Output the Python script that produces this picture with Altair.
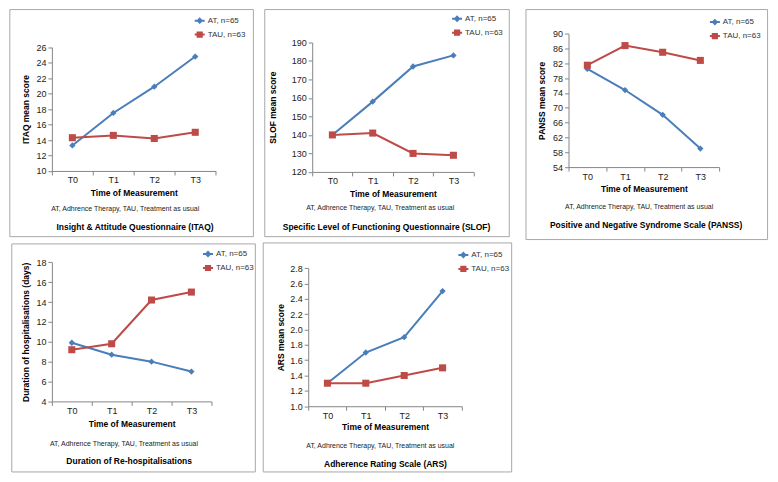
import altair as alt
import pandas as pd

# ---------------- data ----------------
times = ["T0", "T1", "T2", "T3"]
series_names = ["AT, n=65", "TAU, n=63"]
colors = ["#4A7EBB", "#BE4B48"]

itaq_at = [13.3, 17.5, 20.9, 24.8]
itaq_tau = [14.3, 14.6, 14.2, 15.0]
slof_at = [140, 158, 177, 183]
slof_tau = [140, 141, 130, 129]
panss_at = [80.5, 74.8, 68.1, 59.0]
panss_tau = [81.5, 86.8, 85.0, 82.8]
hosp_at = [9.9, 8.7, 8.0, 7.0]
hosp_tau = [9.2, 9.8, 14.2, 15.0]
ars_at = [1.3, 1.7, 1.9, 2.5]
ars_tau = [1.3, 1.3, 1.4, 1.5]

itaq_ticks = [10, 12, 14, 16, 18, 20, 22, 24, 26]
slof_ticks = [120, 130, 140, 150, 160, 170, 180, 190]
panss_ticks = [54, 58, 62, 66, 70, 74, 78, 82, 86, 90]
hosp_ticks = [4, 6, 8, 10, 12, 14, 16, 18]
ars_ticks = [1.0, 1.2, 1.4, 1.6, 1.8, 2.0, 2.2, 2.4, 2.6, 2.8]

y_titles = ["ITAQ mean score", "SLOF mean score", "PANSS mean score",
            "Duration of hospitalisations (days)", "ARS mean score"]
panel_titles = ["Insight  & Attitude Questionnaire (ITAQ)",
                "Specific Level of Functioning Questionnaire (SLOF)",
                "Positive and Negative Syndrome Scale (PANSS)",
                "Duration of Re-hospitalisations",
                "Adherence  Rating Scale (ARS)"]
note_text = "AT, Adhrence Therapy, TAU, Treatment as usual"
x_title = "Time of Measurement"

series_data = [(itaq_at, itaq_tau, itaq_ticks, "d"),
               (slof_at, slof_tau, slof_ticks, "d"),
               (panss_at, panss_tau, panss_ticks, "d"),
               (hosp_at, hosp_tau, hosp_ticks, "d"),
               (ars_at, ars_tau, ars_ticks, ".1f")]

# ---------------- layout (reference pixel geometry) ----------------
layout = [
    dict(plot=(45, 41, 212.5, 169), border=(2, 2, 251, 237), cell=(1, 1, 256.5, 241),
         leg=(190, 14.5), ytx=18.5, xty=191, note=(120, 208), tit=(130, 227)),
    dict(plot=(310.5, 36, 475.5, 170), border=(262, 2, 512, 237), cell=(256.5, 1, 520.5, 241),
         leg=(452.5, 12.5), ytx=270, xty=192, note=(380, 207), tit=(386.5, 227)),
    dict(plot=(572.5, 27, 726.5, 165), border=(529, 2, 776, 240), cell=(520.5, 1, 778, 241),
         leg=(716, 16), ytx=545, xty=187, note=(644.7, 206), tit=(651.8, 225)),
    dict(plot=(43, 263, 206, 407), border=(2, 244, 251, 480), cell=(1, 241, 254.5, 482),
         leg=(196.5, 255.5), ytx=16, xty=430, note=(116.7, 451), tit=(122, 469)),
    dict(plot=(304, 269, 461, 412), border=(258, 243, 512, 480), cell=(254.5, 241, 516, 482),
         leg=(456.5, 256.5), ytx=276, xty=433, note=(377.7, 453), tit=(383, 472)),
]

SX = 762 / 777
SY = 466 / 481


def TX(x):
    return (x - 1) * SX


def TY(y):
    return (y - 1) * SY


AXIS_GREY = "#868686"
LEG_SIZE = 196
path_at = "M-1,0L1,0M0,-0.4L0.4,0L0,0.4L-0.4,0Z"
path_tau = "M-1,0L1,0M-0.42,-0.42L0.42,-0.42L0.42,0.42L-0.42,0.42Z"
shapes = ["diamond", "square"]
shape_sizes = [40, 50]


def make_panel(i):
    at, tau, ticks, fmt = series_data[i]
    L = layout[i]
    c = L["cell"]
    X0 = TX(L["plot"][0])
    X1 = TX(L["plot"][2])
    G0 = TY(c[1])
    top = TY(L["plot"][1]) - G0
    h = TY(L["plot"][3]) - G0
    w = X1 - X0

    def rx(x):
        return TX(x) - X0

    def ry(y):
        return TY(y) - G0

    df = pd.DataFrame({
        "time": times * 2,
        "series": [series_names[0]] * 4 + [series_names[1]] * 4,
        "value": list(at) + list(tau),
    })
    one = alt.Data(values=[{"k": 1}])

    cell = alt.Chart(one).mark_rect(fill="white", fillOpacity=0, strokeWidth=0).encode(
        x=alt.value(rx(c[0])), x2=alt.value(rx(c[2])),
        y=alt.value(ry(c[1])), y2=alt.value(ry(c[3])))
    b = L["border"]
    border = alt.Chart(one).mark_rect(fill="white", fillOpacity=0, stroke="#A8A8A8",
                                      strokeWidth=1).encode(
        x=alt.value(rx(b[0])), x2=alt.value(rx(b[2])),
        y=alt.value(ry(b[1])), y2=alt.value(ry(b[3])))
    note = alt.Chart(one).mark_text(fontSize=7, color="#222", align="center",
                                    baseline="middle").encode(
        x=alt.value(rx(L["note"][0])), y=alt.value(ry(L["note"][1])),
        text=alt.value(note_text))
    ptitle = alt.Chart(one).mark_text(fontSize=8.5, fontWeight="bold", color="#000",
                                      align="center", baseline="middle").encode(
        x=alt.value(rx(L["tit"][0])), y=alt.value(ry(L["tit"][1])),
        text=alt.value(panel_titles[i]))

    x_axis = alt.Axis(tickBand="extent", domainColor=AXIS_GREY, tickColor=AXIS_GREY,
                      tickSize=4, labelPadding=1, labelFontSize=9, labelColor="#222",
                      labelAngle=0, titleFontSize=8.5, titleFontWeight="bold",
                      titleColor="#000", titleX=w / 2, titleY=ry(L["xty"]) - h,
                      titleBaseline="middle", titleAlign="center", grid=False)
    y_axis = alt.Axis(values=ticks, format=fmt, domainColor=AXIS_GREY, tickColor=AXIS_GREY,
                      tickSize=4, labelPadding=2, labelFontSize=9, labelColor="#222",
                      titleFontSize=8.5, titleFontWeight="bold", titleColor="#000",
                      titleX=TX(L["ytx"]) - X0, titleY=(top + h) / 2, titleAngle=270,
                      titleBaseline="middle", titleAlign="center", grid=False)

    base = alt.Chart(df).encode(
        x=alt.X("time:N", sort=times,
                scale=alt.Scale(type="band", domain=times, paddingInner=0, paddingOuter=0),
                axis=x_axis, title=x_title),
        y=alt.Y("value:Q", scale=alt.Scale(domain=[ticks[0], ticks[-1]], nice=False,
                                           zero=False, range=[h, top]),
                axis=y_axis, title=y_titles[i]),
    )

    layers = [cell, border, note, ptitle]
    for k, name in enumerate(series_names):
        sub = base.transform_filter(alt.datum.series == name)
        layers.append(sub.mark_line(strokeWidth=2, color=colors[k]))
    for k, name in enumerate(series_names):
        sub = base.transform_filter(alt.datum.series == name)
        layers.append(sub.mark_point(shape=shapes[k], filled=True, size=shape_sizes[k],
                                     opacity=1, color=colors[k]))

    leg = alt.Legend(orient="none", legendX=rx(L["leg"][0]),
                     legendY=ry(L["leg"][1]) - (LEG_SIZE ** 0.5) / 2,
                     title=None, padding=0, rowPadding=1, labelFontSize=8,
                     labelColor="#333", labelOffset=2, symbolStrokeWidth=2,
                     symbolOpacity=1)
    legend_layer = base.transform_filter("false").mark_point(
        size=LEG_SIZE, strokeWidth=2, opacity=1).encode(
        shape=alt.Shape("series:N", scale=alt.Scale(domain=series_names,
                                                    range=[path_at, path_tau]), legend=leg),
        stroke=alt.Stroke("series:N", scale=alt.Scale(domain=series_names, range=colors),
                          legend=leg),
        fill=alt.Fill("series:N", scale=alt.Scale(domain=series_names, range=colors),
                      legend=leg),
    )
    layers.append(legend_layer)

    return alt.layer(*layers).properties(width=w, height=h)


indep = dict(shape="independent", stroke="independent", fill="independent")
row1 = alt.hconcat(make_panel(0), make_panel(1), make_panel(2), spacing=0).resolve_scale(**indep)
row2 = alt.hconcat(make_panel(3), make_panel(4), spacing=0).resolve_scale(**indep)
chart = alt.vconcat(row1, row2, spacing=0).properties(padding=0).resolve_scale(
    **indep).configure(font="Liberation Sans").configure_view(stroke=None)

chart.save("out.html", embed_options={"renderer": "svg", "actions": False})
